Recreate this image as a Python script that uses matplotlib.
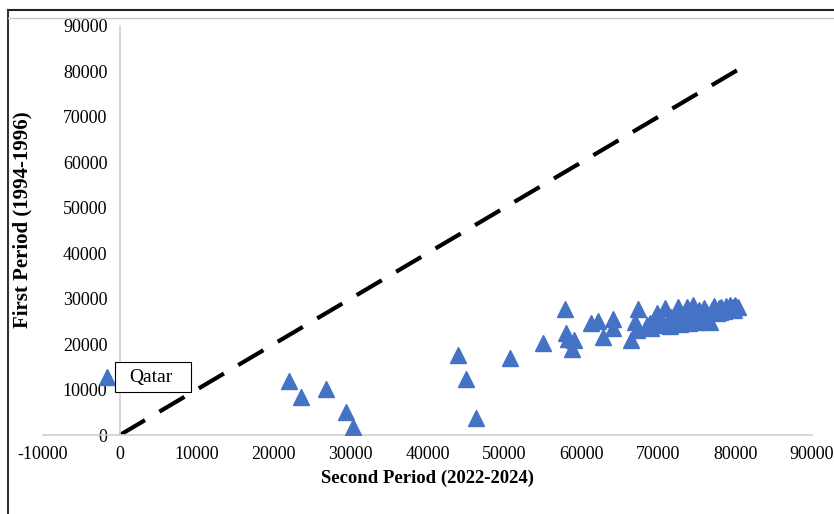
import matplotlib
matplotlib.use("Agg")
import matplotlib.pyplot as plt
from matplotlib.patches import Rectangle
from matplotlib.lines import Line2D

# values
second_period = [
    -1700, 22000, 23500, 26800, 29400, 30300, 44000, 45000, 46300, 50700,
    55000, 57900, 58000, 58300, 59000, 58800, 61200, 62200, 62800, 64100,
    64100, 66400, 67200, 67400, 67000,
    68500, 68900, 69500, 69800, 70200, 70400, 70900, 71200, 71600, 72000,
    72300, 72600, 72800, 73100, 73400, 73700, 73900, 74200, 74500, 74700,
    75000, 75300, 75600, 75900, 76200, 76500, 76700, 77000, 77300, 77600,
    77900, 78200, 78500, 78800, 79100, 79400, 79700, 80000, 80400, 79900,
    78000, 76000, 74000, 71500, 69000,
]
first_period = [
    12800, 11900, 8400, 10100, 5100, 1800, 17600, 12300, 3700, 16900,
    20200, 27700, 22500, 21100, 21000, 19000, 24600, 25100, 21600, 25500,
    23500, 20900, 23100, 27700, 24900,
    24300, 24600, 25300, 26800, 24300, 25600, 27900, 24500, 26000, 25000,
    27000, 28200, 24400, 25800, 26600, 28200, 25100, 27200, 28600, 26000,
    24900, 27400, 26300, 28000, 27000, 25500, 24900, 27600, 28300, 26800,
    27900, 28100, 27300, 28400, 27800, 28500, 28200, 28700, 28200, 27600,
    27000, 25800, 24600, 23900, 23500,
]
equal_line = [0, 80500]
xticks = list(range(-10000, 90001, 10000))
yticks = list(range(0, 90001, 10000))

plt.rcParams['font.family'] = ['Liberation Serif', 'DejaVu Serif']
plt.rcParams['axes.unicode_minus'] = False

fig = plt.figure(figsize=(8.34, 5.14), dpi=100)
ax = fig.add_axes([43 / 834, 79 / 514, 769 / 834, 409 / 514])

ax.plot(equal_line, equal_line, color='black', linewidth=3,
        linestyle=(0, (7, 4)), zorder=2)
ax.plot(second_period, first_period, linestyle='none', marker='^',
        markersize=12, color='#4472C4', zorder=3)

# label box for Qatar
ax.add_patch(Rectangle((-650, 9460), 9880, 6610, facecolor='white',
                       edgecolor='black', linewidth=0.8, zorder=4))
ax.text(1170, 12760, 'Qatar', fontsize=14, ha='left', va='center', zorder=5)

ax.set_xlim(-10000, 90000)
ax.set_ylim(0, 90000)
ax.set_xticks(xticks)
ax.set_yticks(yticks)
ax.tick_params(length=0, labelsize=13)
ax.tick_params(axis='y', pad=9)
ax.tick_params(axis='x', pad=8)

for side in ['top', 'right']:
    ax.spines[side].set_visible(False)
ax.spines['left'].set_position(('data', 0))
ax.spines['bottom'].set_position(('data', 0))
for side in ['left', 'bottom']:
    ax.spines[side].set_color('#d0d0d0')
    ax.spines[side].set_linewidth(1.2)

fig.text(427 / 834, 1 - 478 / 514, 'Second Period (2022-2024)', fontsize=13.5,
         fontweight='bold', ha='center', va='center')
fig.text(22 / 834, 1 - 220 / 514, 'First Period (1994-1996)', fontsize=15,
         fontweight='bold', ha='center', va='center', rotation=90)

# outer frame of the chart area
fig.add_artist(Line2D([8 / 834, 1.0], [1 - 10 / 514, 1 - 10 / 514],
                      transform=fig.transFigure, color='#222222', linewidth=1.5))
fig.add_artist(Line2D([8 / 834, 8 / 834], [0, 1 - 10 / 514],
                      transform=fig.transFigure, color='#333333', linewidth=1.5))
fig.add_artist(Line2D([8 / 834, 1.0], [1 - 18 / 514, 1 - 18 / 514],
                      transform=fig.transFigure, color='#c8c8c8', linewidth=1))

fig.savefig('out.png', dpi=100)
